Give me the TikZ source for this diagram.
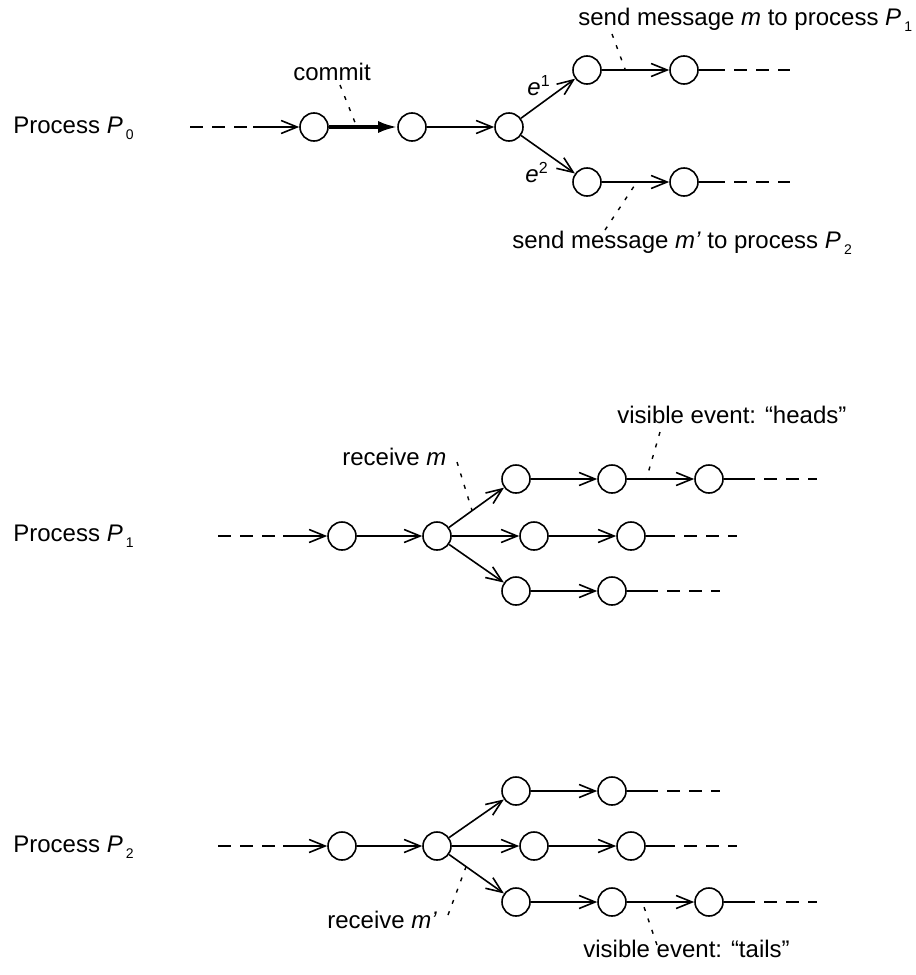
\documentclass[tikz,border=0pt]{standalone}
\usepackage{fontspec}
\setmainfont{Liberation Sans}
\usetikzlibrary{arrows.meta, calc}
\newcommand{\proc}[1]{\textit{P}\kern1.6pt\raisebox{-0.55ex}{\scriptsize #1}}
\tikzset{
    event/.style={circle, draw, minimum size=14pt, inner sep=0pt, line width=0.8pt},
    trans/.style={-{Straight Barb[length=8pt, width=6.5pt]}, line width=0.8pt},
    committrans/.style={-{Latex[length=9.5pt, width=6pt]}, line width=1.6pt},
    plain/.style={-, line width=0.8pt},
    cont/.style={-, line width=0.8pt, dash pattern=on 6.5pt off 4.5pt},
    conttail/.style={cont, dash phase=6.5pt},
    pointer/.style={-, line width=0.7pt, dash pattern=on 2pt off 4pt},
    lbl/.style={font=\fontsize{12pt}{14pt}\selectfont, inner sep=0pt, anchor=base west},
}
\begin{document}
\begin{tikzpicture}[x=0.5pt, y=-0.5pt]
    \useasboundingbox (0,0) rectangle (916,975);
    % ---- Process P0
    \node[lbl] (p0) at (13,133) {Process \proc{0}};
    \coordinate (p0in)  at (190,127);
    \coordinate (p0mid) at (253,127);
    \node[event] (a1) at (314,127) {};
    \node[event] (a2) at (412,127) {};
    \node[event] (a3) at (509,127) {};
    \node[event] (b1) at (587,70) {};
    \node[event] (b2) at (684,70) {};
    \node[event] (c1) at (587,182) {};
    \node[event] (c2) at (684,182) {};
    \coordinate (b2out) at (725,70);  \coordinate (b2end) at (790,70);
    \coordinate (c2out) at (725,182); \coordinate (c2end) at (790,182);
    \draw[cont] (p0in) -- (p0mid);
    \draw[trans] (p0mid) -- (a1);
    \draw[committrans] (a1) -- coordinate[pos=0.41] (commitpt) (a2);
    \draw[trans] (a2) -- (a3);
    \draw[trans] (a3) -- (b1);
    \draw[trans] (a3) -- (c1);
    \draw[trans] (b1) -- coordinate[pos=0.35] (sendpt) (b2);
    \draw[trans] (c1) -- coordinate[pos=0.52] (sendpt') (c2);
    \draw[plain] (b2) -- (b2out);
    \draw[conttail] (b2out) -- (b2end);
    \draw[plain] (c2) -- (c2out);
    \draw[conttail] (c2out) -- (c2end);
    \node[lbl] (e1) at (527,95) {\textit{e}\textsuperscript{1}};
    \node[lbl] (e2) at (525,182) {\textit{e}\textsuperscript{2}};
    % labels and pointers
    \node[lbl] (commit) at (293,80) {commit};
    \node[lbl] (send) at (578,25) {send message \textit{m} to process \proc{1}};
    \node[lbl] (send') at (512,248) {send message \textit{m’} to process \proc{2}};
    \coordinate (committip) at (340,85);
    \coordinate (sendtip) at (612,34);
    \coordinate (sendtip') at (605,230);
    \draw[pointer] (committip) -- (commitpt);
    \draw[pointer] (sendtip) -- (sendpt);
    \draw[pointer] (sendtip') -- (sendpt');

    % ---- Process P1
    \node[lbl] (p1) at (13,541) {Process \proc{1}};
    \coordinate (p1in)  at (218,536);
    \coordinate (p1mid) at (283,536);
    \node[event] (q1) at (342,536) {};
    \node[event] (q2) at (437,536) {};
    \node[event] (qa1) at (516,479) {};
    \node[event] (qa2) at (612,479) {};
    \node[event] (qa3) at (709,479) {};
    \node[event] (qb1) at (534,536) {};
    \node[event] (qb2) at (631,536) {};
    \node[event] (qc1) at (516,591) {};
    \node[event] (qc2) at (612,591) {};
    \coordinate (qaout) at (755,479); \coordinate (qaend) at (817,479);
    \coordinate (qbout) at (675,536); \coordinate (qbend) at (737,536);
    \coordinate (qcout) at (658,591); \coordinate (qcend) at (720,591);
    \draw[cont] (p1in) -- (p1mid);
    \draw[trans] (p1mid) -- (q1);
    \draw[trans] (q1) -- (q2);
    \draw[trans] (q2) -- coordinate[pos=0.42] (recvpt) (qa1);
    \draw[trans] (q2) -- (qb1);
    \draw[trans] (q2) -- (qc1);
    \draw[trans] (qa1) -- (qa2);
    \draw[trans] (qa2) -- coordinate[pos=0.29] (headspt) (qa3);
    \draw[trans] (qb1) -- (qb2);
    \draw[trans] (qc1) -- (qc2);
    \draw[plain] (qa3) -- (qaout);
    \draw[conttail] (qaout) -- (qaend);
    \draw[plain] (qb2) -- (qbout);
    \draw[conttail] (qbout) -- (qbend);
    \draw[plain] (qc2) -- (qcout);
    \draw[conttail] (qcout) -- (qcend);
    \node[lbl] (recv) at (342,465) {receive \textit{m}};
    \node[lbl] (heads) at (617,423) {visible event: “heads”};
    \coordinate (recvtip) at (457,462);
    \coordinate (headstip) at (660,432);
    \draw[pointer] (recvtip) -- (recvpt);
    \draw[pointer] (headstip) -- (headspt);

    % ---- Process P2
    \node[lbl] (p2) at (13,852) {Process \proc{2}};
    \coordinate (p2in)  at (218,846);
    \coordinate (p2mid) at (283,846);
    \node[event] (r1) at (342,846) {};
    \node[event] (r2) at (437,846) {};
    \node[event] (ra1) at (516,791) {};
    \node[event] (ra2) at (612,791) {};
    \node[event] (rb1) at (534,846) {};
    \node[event] (rb2) at (631,846) {};
    \node[event] (rc1) at (516,902) {};
    \node[event] (rc2) at (612,902) {};
    \node[event] (rc3) at (709,902) {};
    \coordinate (raout) at (658,791); \coordinate (raend) at (720,791);
    \coordinate (rbout) at (675,846); \coordinate (rbend) at (737,846);
    \coordinate (rcout) at (755,902); \coordinate (rcend) at (817,902);
    \draw[cont] (p2in) -- (p2mid);
    \draw[trans] (p2mid) -- (r1);
    \draw[trans] (r1) -- (r2);
    \draw[trans] (r2) -- (ra1);
    \draw[trans] (r2) -- (rb1);
    \draw[trans] (r2) -- coordinate[pos=0.31] (recvpt') (rc1);
    \draw[trans] (ra1) -- (ra2);
    \draw[trans] (rb1) -- (rb2);
    \draw[trans] (rc1) -- (rc2);
    \draw[trans] (rc2) -- coordinate[pos=0.23] (tailspt) (rc3);
    \draw[plain] (ra2) -- (raout);
    \draw[conttail] (raout) -- (raend);
    \draw[plain] (rb2) -- (rbout);
    \draw[conttail] (rbout) -- (rbend);
    \draw[plain] (rc3) -- (rcout);
    \draw[conttail] (rcout) -- (rcend);
    \node[lbl] (recv') at (327,928) {receive \textit{m’}};
    \node[lbl] (tails) at (583,957) {visible event: “tails”};
    \coordinate (recvtip') at (448,915);
    \coordinate (tailstip) at (657,945);
    \draw[pointer] (recvtip') -- (recvpt');
    \draw[pointer] (tailstip) -- (tailspt);
\end{tikzpicture}
\end{document}
